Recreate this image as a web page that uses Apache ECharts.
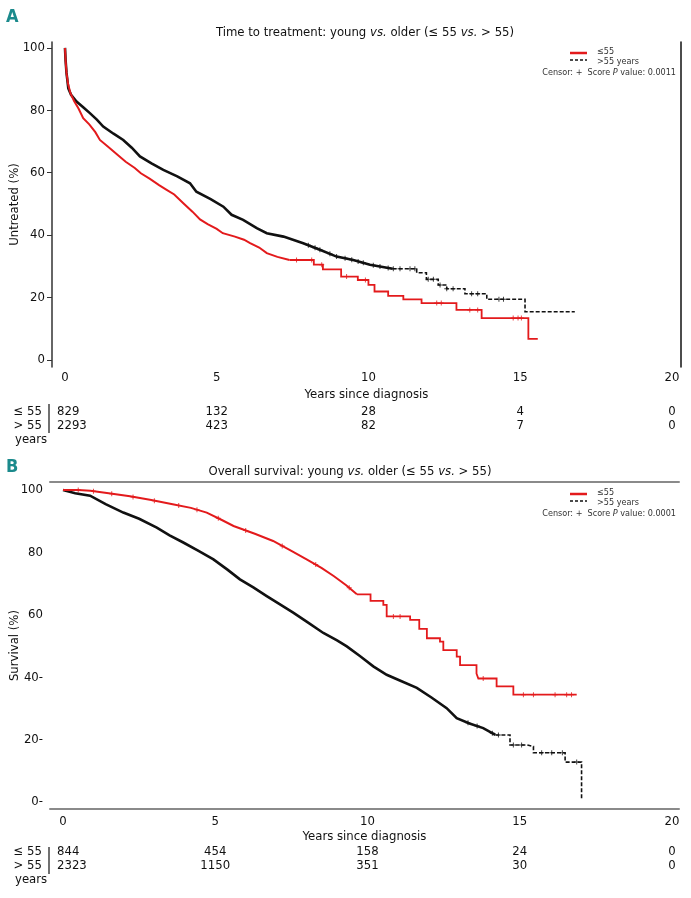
<!DOCTYPE html>
<html><head><meta charset="utf-8">
<script src="https://cdn.jsdelivr.net/npm/echarts@6/dist/echarts.min.js"></script>
<style>html,body{margin:0;padding:0;background:#fff}#c{width:691px;height:898px}</style>
</head><body><div id="c"></div>
<script>
const FONT = '"Liberation Sans Narrow","DejaVu Sans Condensed",sans-serif';
const RED = '#e31a1c', BLACK = '#111111';
const xTicks = [0, 5, 10, 15, 20];
const yTicks = [0, 20, 40, 60, 80, 100];
const riskTimes = [0, 5, 10, 15, 20];
const groupLabels = ['≤ 55', '> 55', 'years'];
const legendNames = ['≤55', '>55 years'];

// Panel A: time to treatment (time in years, % untreated)
const ttYoung = [[0,100],[0.02,96],[0.05,92],[0.1,88.5],[0.18,85.5],[0.3,83],[0.45,80.5],[0.6,77.5],[0.8,75.5],[1.0,73],[1.15,70.5],[1.4,68.5],[1.7,66],[2.0,63.5],[2.3,61.5],[2.5,59.8],[2.8,58],[3.1,56],[3.35,54.5],[3.6,53],[3.9,50.2],[4.2,47.5],[4.45,45],[4.7,43.5],[5.0,42],[5.2,40.6],[5.6,39.5],[5.9,38.5],[6.1,37.4],[6.4,36],[6.65,34.2],[7.0,33],[7.4,32],[8.2,30.5],[8.5,29],[9.1,26.7],[9.65,25.6],[10.0,24],[10.2,21.9],[10.65,20.5],[11.15,19.4],[11.75,18.2],[12.9,16],[13.73,13.4],[15.27,6.7],[15.58,6.7]];
const ttOld = [[0,100],[0.02,96],[0.05,92],[0.11,87],[0.2,85],[0.38,82.8],[0.6,81],[0.82,79.1],[1.05,77],[1.26,74.8],[1.6,72.5],[1.92,70.5],[2.2,68],[2.47,65.2],[2.85,63],[3.24,60.9],[3.7,58.8],[4.12,56.6],[4.33,53.9],[4.8,51.5],[5.22,49.1],[5.49,46.5],[5.87,44.9],[6.32,42.2],[6.65,40.6],[7.2,39.5],[7.85,37.4],[8.4,35.3],[8.95,33.1],[9.5,32],[10.05,30.5],[10.8,29.2],[11.59,27.9],[11.91,25.8],[12.3,24],[12.58,22.8],[13.18,21.2],[13.9,19.4],[15.16,15.4],[16.8,15.4]];
const ttYoungCensor = [7.63, 8.13, 8.46, 9.28, 9.9, 12.25, 12.4, 13.34, 13.6, 14.77, 14.93, 15.04];
const ttOldCensor = [8.02, 8.24, 8.4, 8.73, 8.95, 9.23, 9.45, 9.66, 9.83, 10.16, 10.38, 10.65, 10.82, 11.04, 11.37, 11.53, 11.97, 12.14, 12.36, 12.58, 12.79, 13.4, 13.6, 14.3, 14.45];
const ttRiskYoung = [829, 132, 28, 4, 0];
const ttRiskOld = [2293, 423, 82, 7, 0];
const ttPvalue = '0.0011';

// Panel B: overall survival
const osYoung = [[0,100],[0.5,100],[0.9,99.8],[1.5,99],[2.2,98],[2.9,96.8],[3.6,95.5],[4.2,94.3],[4.72,92.8],[5.2,90.5],[5.6,88.5],[6.3,86],[6.9,83.7],[7.5,80.5],[8.0,77.8],[8.5,75],[8.9,72.4],[9.3,69.5],[9.65,66.6],[10.1,64.5],[10.52,63.2],[10.63,59.5],[11.4,58.4],[11.7,55.5],[11.95,52.5],[12.38,51.4],[12.49,48.7],[12.93,46.6],[13.04,43.9],[13.58,41.2],[13.64,39.6],[14.24,37.1],[14.79,34.4],[16.87,34.4]];
const osOld = [[0,100],[0.4,99],[0.89,98.2],[1.4,95.5],[1.98,92.8],[2.5,90.8],[3.08,88],[3.5,85.5],[3.95,83.2],[4.45,80.5],[4.94,77.8],[5.4,74.5],[5.81,71.4],[6.25,68.8],[6.69,66],[7.1,63.5],[7.56,60.7],[8.05,57.5],[8.55,54.2],[9.0,51.8],[9.32,49.9],[9.75,46.8],[10.19,43.5],[10.63,40.8],[11.1,38.8],[11.62,36.6],[12.1,33.5],[12.6,30.1],[12.93,26.9],[13.35,25.2],[13.8,23.7],[14.2,21.5],[14.68,18.3],[15.23,17.8],[15.45,15.8],[16.49,12.8],[17.03,0.6]];
const osYoungCensor = [0.5, 1.0, 1.6, 2.3, 3.0, 3.8, 4.4, 5.1, 6.0, 7.2, 8.3, 9.4, 10.85, 11.07, 13.8, 15.12, 15.45, 16.16, 16.54, 16.7];
const osOldCensor = [13.3, 13.6, 14.1, 14.3, 14.79, 15.06, 15.72, 16.05, 16.4, 16.87];
const osRiskYoung = [844, 454, 158, 24, 0];
const osRiskOld = [2323, 1150, 351, 30, 0];
const osPvalue = '0.0001';

// where each curve's dense part (many tiny steps, drawn as a continuous line) gives way to visible steps
const denseEnd = {ttYoung: 7.4, ttOld: 11.0, osYoung: 9.65, osOld: 14.5};

// value of the drawn curve at time t: linear inside the dense part, stepwise after it
function curveAt(curve, t, cut) {
  let i = 0;
  for (let k = 0; k < curve.length; k++) { if (curve[k][0] <= t) i = k; else break; }
  const p = curve[i], q = curve[i + 1];
  if (q && q[0] <= cut) return p[1] + (q[1] - p[1]) * (t - p[0]) / (q[0] - p[0]);
  return p[1];
}
function headPart(curve, cut) { return curve.filter(p => p[0] <= cut); }
function tailPart(curve, cut) { let i = 0; curve.forEach((p, k) => { if (p[0] <= cut) i = k; }); return curve.slice(i); }
const PLUS = 'path://M4,0H6V4H10V6H6V10H4V6H0V4H4Z';

const chart = echarts.init(document.getElementById('c'), null, {renderer: 'canvas'});
const FS = 13;
const txt = {fontFamily: FONT, color: '#111', fontSize: FS};

function lineS(name, data, xi, yi, color, width, type, step) {
  return {name, type: 'line', step: step ? 'end' : false, data, xAxisIndex: xi, yAxisIndex: yi, symbol: 'none',
    lineStyle: {color, width, type: type || 'solid', join: 'miter'}, itemStyle: {color}, animation: false, z: 3};
}
function censorS(name, times, curve, cut, xi, yi, color) {
  return {name, type: 'scatter', data: times.map(t => [t, curveAt(curve, t, cut)]), xAxisIndex: xi, yAxisIndex: yi,
    symbol: PLUS, symbolSize: 5, itemStyle: {color}, animation: false, z: 4};
}

const option = {
  backgroundColor: '#fff',
  animation: false,
  grid: [
    {left: 52, right: 10, top: 42, height: 325, outerBoundsMode: 'none', containLabel: false},
    {left: 50, right: 12, top: 482, height: 327, outerBoundsMode: 'none', containLabel: false}
  ],
  xAxis: [
    {gridIndex: 0, type: 'value', min: -0.428, max: 20.3, axisLine: {show: false, onZero: false}, axisTick: {show: false}, splitLine: {show: false},
      axisLabel: Object.assign({customValues: xTicks, margin: 4}, txt),
      name: 'Years since diagnosis', nameLocation: 'middle', nameGap: 21, nameMoveOverlap: false, nameTextStyle: txt},
    {gridIndex: 1, type: 'value', min: -0.427, max: 20.23, axisLine: {show: true, onZero: false, lineStyle: {color: '#8a8a8a', width: 2}}, axisTick: {show: false}, splitLine: {show: false},
      axisLabel: Object.assign({customValues: xTicks, margin: 6}, txt),
      name: 'Years since diagnosis', nameLocation: 'middle', nameGap: 21, nameMoveOverlap: false, nameTextStyle: txt},
    {gridIndex: 1, type: 'value', position: 'top', min: -0.427, max: 20.23, axisLine: {show: true, onZero: false, lineStyle: {color: '#8a8a8a', width: 2}}, axisTick: {show: false}, splitLine: {show: false}, axisLabel: {show: false}}
  ],
  yAxis: [
    {gridIndex: 0, type: 'value', min: -2.3, max: 101.9, axisLine: {show: true, onZero: false, lineStyle: {color: '#333', width: 1.5}},
      axisTick: {show: true, customValues: yTicks, length: 5, lineStyle: {color: '#333'}}, splitLine: {show: false},
      axisLabel: Object.assign({customValues: yTicks, margin: 7}, txt),
      name: 'Untreated (%)', nameLocation: 'middle', nameRotate: 90, nameGap: 31, nameMoveOverlap: false, nameTextStyle: txt},
    {gridIndex: 0, type: 'value', position: 'right', min: -2.3, max: 101.9, axisLine: {show: true, onZero: false, lineStyle: {color: '#111', width: 1.5}},
      axisTick: {show: false}, axisLabel: {show: false}, splitLine: {show: false}},
    {gridIndex: 1, type: 'value', min: -2.24, max: 102.6, axisLine: {show: false, onZero: false}, axisTick: {show: false}, splitLine: {show: false},
      axisLabel: Object.assign({customValues: yTicks, margin: 7, formatter: v => v <= 40 ? v + '-' : String(v)}, txt),
      name: 'Survival (%)', nameLocation: 'middle', nameRotate: 90, nameGap: 29, nameMoveOverlap: false, nameTextStyle: txt}
  ],
  series: [
    lineS(legendNames[1], headPart(ttOld, denseEnd.ttOld), 0, 0, BLACK, 2.6),
    lineS(legendNames[1], tailPart(ttOld, denseEnd.ttOld), 0, 0, BLACK, 1.6, [4, 2], true),
    lineS(legendNames[0], headPart(ttYoung, denseEnd.ttYoung), 0, 0, RED, 2),
    lineS(legendNames[0], tailPart(ttYoung, denseEnd.ttYoung), 0, 0, RED, 1.8, 'solid', true),
    censorS('cA1', ttOldCensor, ttOld, denseEnd.ttOld, 0, 0, BLACK),
    censorS('cA0', ttYoungCensor, ttYoung, denseEnd.ttYoung, 0, 0, RED),
    lineS(legendNames[1], headPart(osOld, denseEnd.osOld), 1, 2, BLACK, 2.6),
    lineS(legendNames[1], tailPart(osOld, denseEnd.osOld), 1, 2, BLACK, 1.6, [4, 2], true),
    lineS(legendNames[0], headPart(osYoung, denseEnd.osYoung), 1, 2, RED, 2),
    lineS(legendNames[0], tailPart(osYoung, denseEnd.osYoung), 1, 2, RED, 1.8, 'solid', true),
    censorS('cB1', osOldCensor, osOld, denseEnd.osOld, 1, 2, BLACK),
    censorS('cB0', osYoungCensor, osYoung, denseEnd.osYoung, 1, 2, RED)
  ]
};
chart.setOption(option);

function T(x, y, text, o) {
  o = o || {};
  return {type: 'text', x, y, silent: true, z: 10, style: Object.assign({
    text, fill: o.fill || '#111', font: (o.style || 'normal') + ' ' + (o.weight || 'normal') + ' ' + (o.size || FS) + 'px ' + FONT,
    textAlign: o.align || 'left', align: o.align || 'left', textVerticalAlign: 'middle', verticalAlign: 'middle'
  }, o.extra || {})};
}
function L(x1, y1, x2, y2, color, width, dash) {
  return {type: 'line', silent: true, z: 10, shape: {x1, y1, x2, y2}, style: {stroke: color, lineWidth: width, lineDash: dash || null}};
}
const richI = {i: {fontStyle: 'italic', fontFamily: FONT, fontSize: FS, fill: '#111'}, n: {fontFamily: FONT, fontSize: FS, fill: '#111'}};
const richS = {i: {fontStyle: 'italic', fontFamily: FONT, fontSize: 9, fill: '#333'}, n: {fontFamily: FONT, fontSize: 9, fill: '#333'}};

function panelGraphics(letter, ly, title, tx, ty, legTop, pval, risk0, risk1, rowY, sepTop, sepBot, xi) {
  const g = [];
  g.push(T(6, ly, letter, {fill: '#1b8a8c', weight: 'bold', size: 18}));
  g.push(T(tx, ty, title, {align: 'center', extra: {rich: richI}}));
  g.push(L(570, legTop, 587, legTop, RED, 2.5));
  g.push(T(597, legTop - 1, legendNames[0], {size: 9, fill: '#333'}));
  g.push(L(570, legTop + 7, 587, legTop + 7, BLACK, 1.5, [3, 2]));
  g.push(T(597, legTop + 9, legendNames[1], {size: 9, fill: '#333'}));
  g.push(T(676, legTop + 20, '{n|Censor: +  Score }{i|P}{n| value: ' + pval + '}', {align: 'right', size: 9, extra: {rich: richS}}));
  g.push(T(42, rowY, groupLabels[0], {align: 'right'}));
  g.push(T(42, rowY + 14, groupLabels[1], {align: 'right'}));
  g.push(T(15, rowY + 28, groupLabels[2]));
  g.push(L(49, sepTop, 49, sepBot, '#111', 1.2));
  riskTimes.forEach((t, k) => {
    const px = chart.convertToPixel({xAxisIndex: xi}, t);
    const first = k === 0;
    g.push(T(first ? 57 : px, rowY, String(risk0[k]), {align: first ? 'left' : 'center'}));
    g.push(T(first ? 57 : px, rowY + 14, String(risk1[k]), {align: first ? 'left' : 'center'}));
  });
  return g;
}

const graphics = [].concat(
  panelGraphics('A', 17, '{n|Time to treatment: young }{i|vs.}{n| older (≤ 55 }{i|vs.}{n| > 55)}', 365, 33, 53, ttPvalue, ttRiskYoung, ttRiskOld, 412, 404, 433, 0),
  panelGraphics('B', 467, '{n|Overall survival: young }{i|vs.}{n| older (≤ 55 }{i|vs.}{n| > 55)}', 350, 472, 494, osPvalue, osRiskYoung, osRiskOld, 852, 847, 874, 1)
);
chart.setOption({graphic: {elements: graphics}});
</script>
</body></html>
